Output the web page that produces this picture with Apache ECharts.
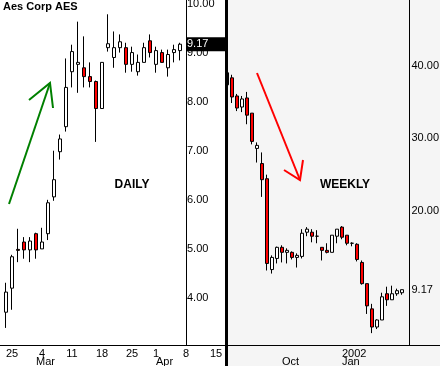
<!DOCTYPE html>
<html><head><meta charset="utf-8">
<script src="https://cdn.jsdelivr.net/npm/echarts@6/dist/echarts.min.js"></script>
<style>html,body{margin:0;padding:0;background:#fff}#c{width:440px;height:366px}</style>
</head><body><div id="c"></div><script>
// ---- Daily (Feb 22 - Apr 5, 2002) ----
const dailyDates = ['02-22','02-25','02-26','02-27','02-28','03-01','03-04','03-05','03-06','03-07','03-08',
  '03-11','03-12','03-13','03-14','03-15','03-18','03-19','03-20','03-21','03-22','03-25','03-26','03-27','03-28',
  '04-01','04-02','04-03','04-04','04-05'];
const dailyOpen  = [3.71,4.20,4.99,5.14,4.98,5.31,5.00,5.31,6.06,6.98,7.49,8.61,8.76,8.69,8.51,8.41,7.86,9.10,8.90,9.10,9.10,8.76,8.61,8.80,9.24,8.76,9.00,8.69,9.00,9.04];
const dailyClose = [4.12,4.84,4.97,4.98,5.16,4.98,5.14,5.94,6.41,7.24,8.29,9.02,8.80,8.51,8.41,7.86,8.80,9.18,9.10,9.22,8.76,9.00,8.80,9.10,9.00,9.04,8.80,8.96,9.06,9.17];
const dailyLow   = [3.39,3.76,4.73,4.80,4.73,4.80,5.00,5.18,5.98,6.82,7.39,8.29,8.18,8.29,8.29,7.18,7.86,9.02,8.69,9.00,8.59,8.61,8.53,8.80,8.90,8.59,8.80,8.51,8.80,8.84];
const dailyHigh  = [4.31,4.88,5.41,5.24,5.24,5.33,5.43,6.00,7.00,7.33,8.88,9.16,9.63,9.33,8.80,8.43,8.80,9.78,9.43,9.37,9.20,9.12,8.96,9.20,9.37,9.12,9.06,9.06,9.16,9.20];
const dailyTickIdx   = [2,7,12,17,22,26,31,36];
const dailyTickText  = ['25','4','11','18','25','1','8','15'];
const dailyMonthIdx  = [6,26];
const dailyMonthText = ['Mar','Apr'];

// ---- Weekly ----
const weeklyOpen  = [37.36,38.33,35.83,34.31,35.56,33.47,28.61,26.53,24.44,11.94,13.47,15.00,14.31,14.31,13.61,13.75,17.08,17.08,16.53,15.00,14.58,14.31,16.53,17.78,16.67,15.56,15.42,12.92,10.00,6.53,4.03,5.00,8.61,7.78,8.61,8.75];
const weeklyClose = [39.03,35.69,34.17,35.42,33.19,29.58,29.03,24.31,12.78,13.61,15.00,14.31,14.58,13.61,13.89,16.94,17.50,16.53,16.53,14.58,14.31,16.67,17.50,16.39,15.56,15.56,13.33,10.00,6.94,4.03,5.00,8.19,7.78,8.61,9.03,9.17];
const weeklyLow   = [37.36,34.86,33.75,33.61,31.94,29.17,26.67,21.94,11.81,11.39,12.78,12.92,12.78,13.33,12.22,13.47,16.53,15.69,15.56,13.19,14.17,14.31,15.56,16.11,15.28,15.14,13.06,9.86,5.83,3.19,3.75,5.00,6.94,7.78,8.33,8.47];
const weeklyHigh  = [39.03,38.75,36.11,35.83,36.39,33.47,29.44,28.06,25.00,13.89,15.10,15.28,14.86,14.44,14.17,17.50,17.78,17.50,17.36,15.00,15.56,16.67,17.50,17.92,16.67,15.69,15.56,13.19,10.00,7.22,5.10,8.75,9.58,9.72,9.31,9.17];
const weeklyYearIdx = [24];
const weeklyYearText = ['2002'];
const weeklyMonthIdx = [12,24];
const weeklyMonthText = ['Oct','Jan'];

const FONT = '"Liberation Sans", Arial, sans-serif';

function idxFormatter(idxs, texts) {
  return function (v) {
    const k = Math.round(v);
    if (Math.abs(v - k) > 1e-6) return '';
    const j = idxs.indexOf(k);
    return j >= 0 ? texts[j] : '';
  };
}

const dailyData = dailyOpen.map((o, i) => [i + 1, o, dailyClose[i], dailyLow[i], dailyHigh[i]]);
const weeklyData = weeklyOpen.map((o, i) => [i + 1, o, weeklyClose[i], weeklyLow[i], weeklyHigh[i]]);

const candleStyle = { color: '#ffffff', color0: '#ff0000', borderColor: '#000', borderColor0: '#000', borderWidth: 1 };
function lbl(extra) { return Object.assign({ fontSize: 11, color: '#000', fontFamily: FONT }, extra); }
function xAx(grid, min, max, lineShow, labelOpts) {
  return { gridIndex: grid, type: 'value', position: 'bottom', min: min, max: max, interval: 1,
    axisLine: { show: lineShow, onZero: false, lineStyle: { color: '#000', width: 1 } },
    axisTick: { show: false }, splitLine: { show: false }, axisLabel: lbl(labelOpts) };
}

// daily: 6 px per trading day, weekly: 5 px per week
const DW = 6, WW = 5;
const chart = echarts.init(document.getElementById('c'));
chart.setOption({
  animation: false,
  textStyle: { fontFamily: FONT },
  grid: [
    { outerBoundsMode: 'none', containLabel: false, left: -DW, top: 0, width: 226 + DW, height: 345 },
    { outerBoundsMode: 'none', containLabel: false, left: 227, top: 0, width: 218, height: 345 }
  ],
  xAxis: [
    xAx(0, -1, 226 / DW, true,  { margin: 3, formatter: idxFormatter(dailyTickIdx, dailyTickText) }),
    xAx(0, -1, 226 / DW, false, { margin: 11, align: 'left', formatter: idxFormatter(dailyMonthIdx, dailyMonthText) }),
    xAx(1, 1, 1 + 218 / WW, true,  { margin: 3, align: 'left', formatter: idxFormatter(weeklyYearIdx, weeklyYearText) }),
    xAx(1, 1, 1 + 218 / WW, false, { margin: 11, align: 'left', formatter: idxFormatter(weeklyMonthIdx, weeklyMonthText) })
  ],
  yAxis: [
    { gridIndex: 0, type: 'value', position: 'right', offset: -40, min: 3.042, max: 10.071,
      axisLine: { show: true, onZero: false, lineStyle: { color: '#000', width: 1 } }, axisTick: { show: false },
      splitLine: { show: false },
      axisLabel: lbl({ margin: 1, formatter: v => Math.abs(v - Math.round(v)) < 1e-6 ? v.toFixed(2) : '' }) },
    { gridIndex: 1, type: 'value', position: 'right', offset: -35.5, min: 1.556, max: 49.04,
      axisLine: { show: true, onZero: false, lineStyle: { color: '#000', width: 1 } }, axisTick: { show: false },
      splitLine: { show: false },
      axisLabel: lbl({ margin: 2, formatter: v => (v >= 19.99 && Math.abs(v / 10 - Math.round(v / 10)) < 1e-6) ? v.toFixed(2) : '' }) }
  ],
  series: [
    { type: 'candlestick', xAxisIndex: 0, yAxisIndex: 0, barWidth: 4, silent: true,
      itemStyle: candleStyle, data: dailyData,
      markPoint: { silent: true, symbol: 'rect', symbolSize: [40, 14], symbolOffset: [20, 0],
        itemStyle: { color: '#000' },
        label: { show: true, position: 'insideLeft', distance: 1, color: '#fff', fontSize: 11, fontFamily: FONT,
          formatter: () => dailyClose[dailyClose.length - 1].toFixed(2) },
        data: [{ coord: [31, dailyClose[dailyClose.length - 1]] }] } },
    { type: 'candlestick', xAxisIndex: 2, yAxisIndex: 1, barWidth: 4, silent: true,
      itemStyle: candleStyle, data: weeklyData,
      markPoint: { silent: true, symbol: 'rect', symbolSize: [1, 1],
        itemStyle: { color: 'rgba(0,0,0,0)' },
        label: { show: true, position: 'right', distance: 1.5, color: '#000', fontSize: 11, fontFamily: FONT,
          formatter: () => weeklyClose[weeklyClose.length - 1].toFixed(2) },
        data: [{ coord: [37.5, weeklyClose[weeklyClose.length - 1]] }] } }
  ],
  graphic: [
    { type: 'rect', silent: true, z: -10, shape: { x: 228, y: 0, width: 212, height: 366 }, style: { fill: '#f5f5f5' } },
    { type: 'rect', silent: true, z: 100, shape: { x: 225, y: 0, width: 3, height: 366 }, style: { fill: '#000' } },
    { type: 'text', silent: true, z: 100, x: 3, y: 6.7, style: { text: 'Aes Corp AES', font: 'bold 11px ' + FONT, fill: '#000', align: 'left', verticalAlign: 'middle' } },
    { type: 'text', silent: true, z: 100, x: 132, y: 184.5, style: { text: 'DAILY', font: 'bold 12px ' + FONT, fill: '#000', align: 'center', verticalAlign: 'middle' } },
    { type: 'text', silent: true, z: 100, x: 345, y: 184.5, style: { text: 'WEEKLY', font: 'bold 12px ' + FONT, fill: '#000', align: 'center', verticalAlign: 'middle' } },
    { type: 'polyline', silent: true, z: 100, shape: { points: [[9, 204], [50, 83]] }, style: { stroke: '#008000', lineWidth: 2, fill: null } },
    { type: 'polyline', silent: true, z: 100, shape: { points: [[29, 100], [50, 83], [53, 108]] }, style: { stroke: '#008000', lineWidth: 2, fill: null } },
    { type: 'polyline', silent: true, z: 100, shape: { points: [[257, 73], [300, 180]] }, style: { stroke: '#ff0000', lineWidth: 2, fill: null } },
    { type: 'polyline', silent: true, z: 100, shape: { points: [[284, 170], [300, 180], [303, 160]] }, style: { stroke: '#ff0000', lineWidth: 2, fill: null } }
  ]
});
</script></body></html>
